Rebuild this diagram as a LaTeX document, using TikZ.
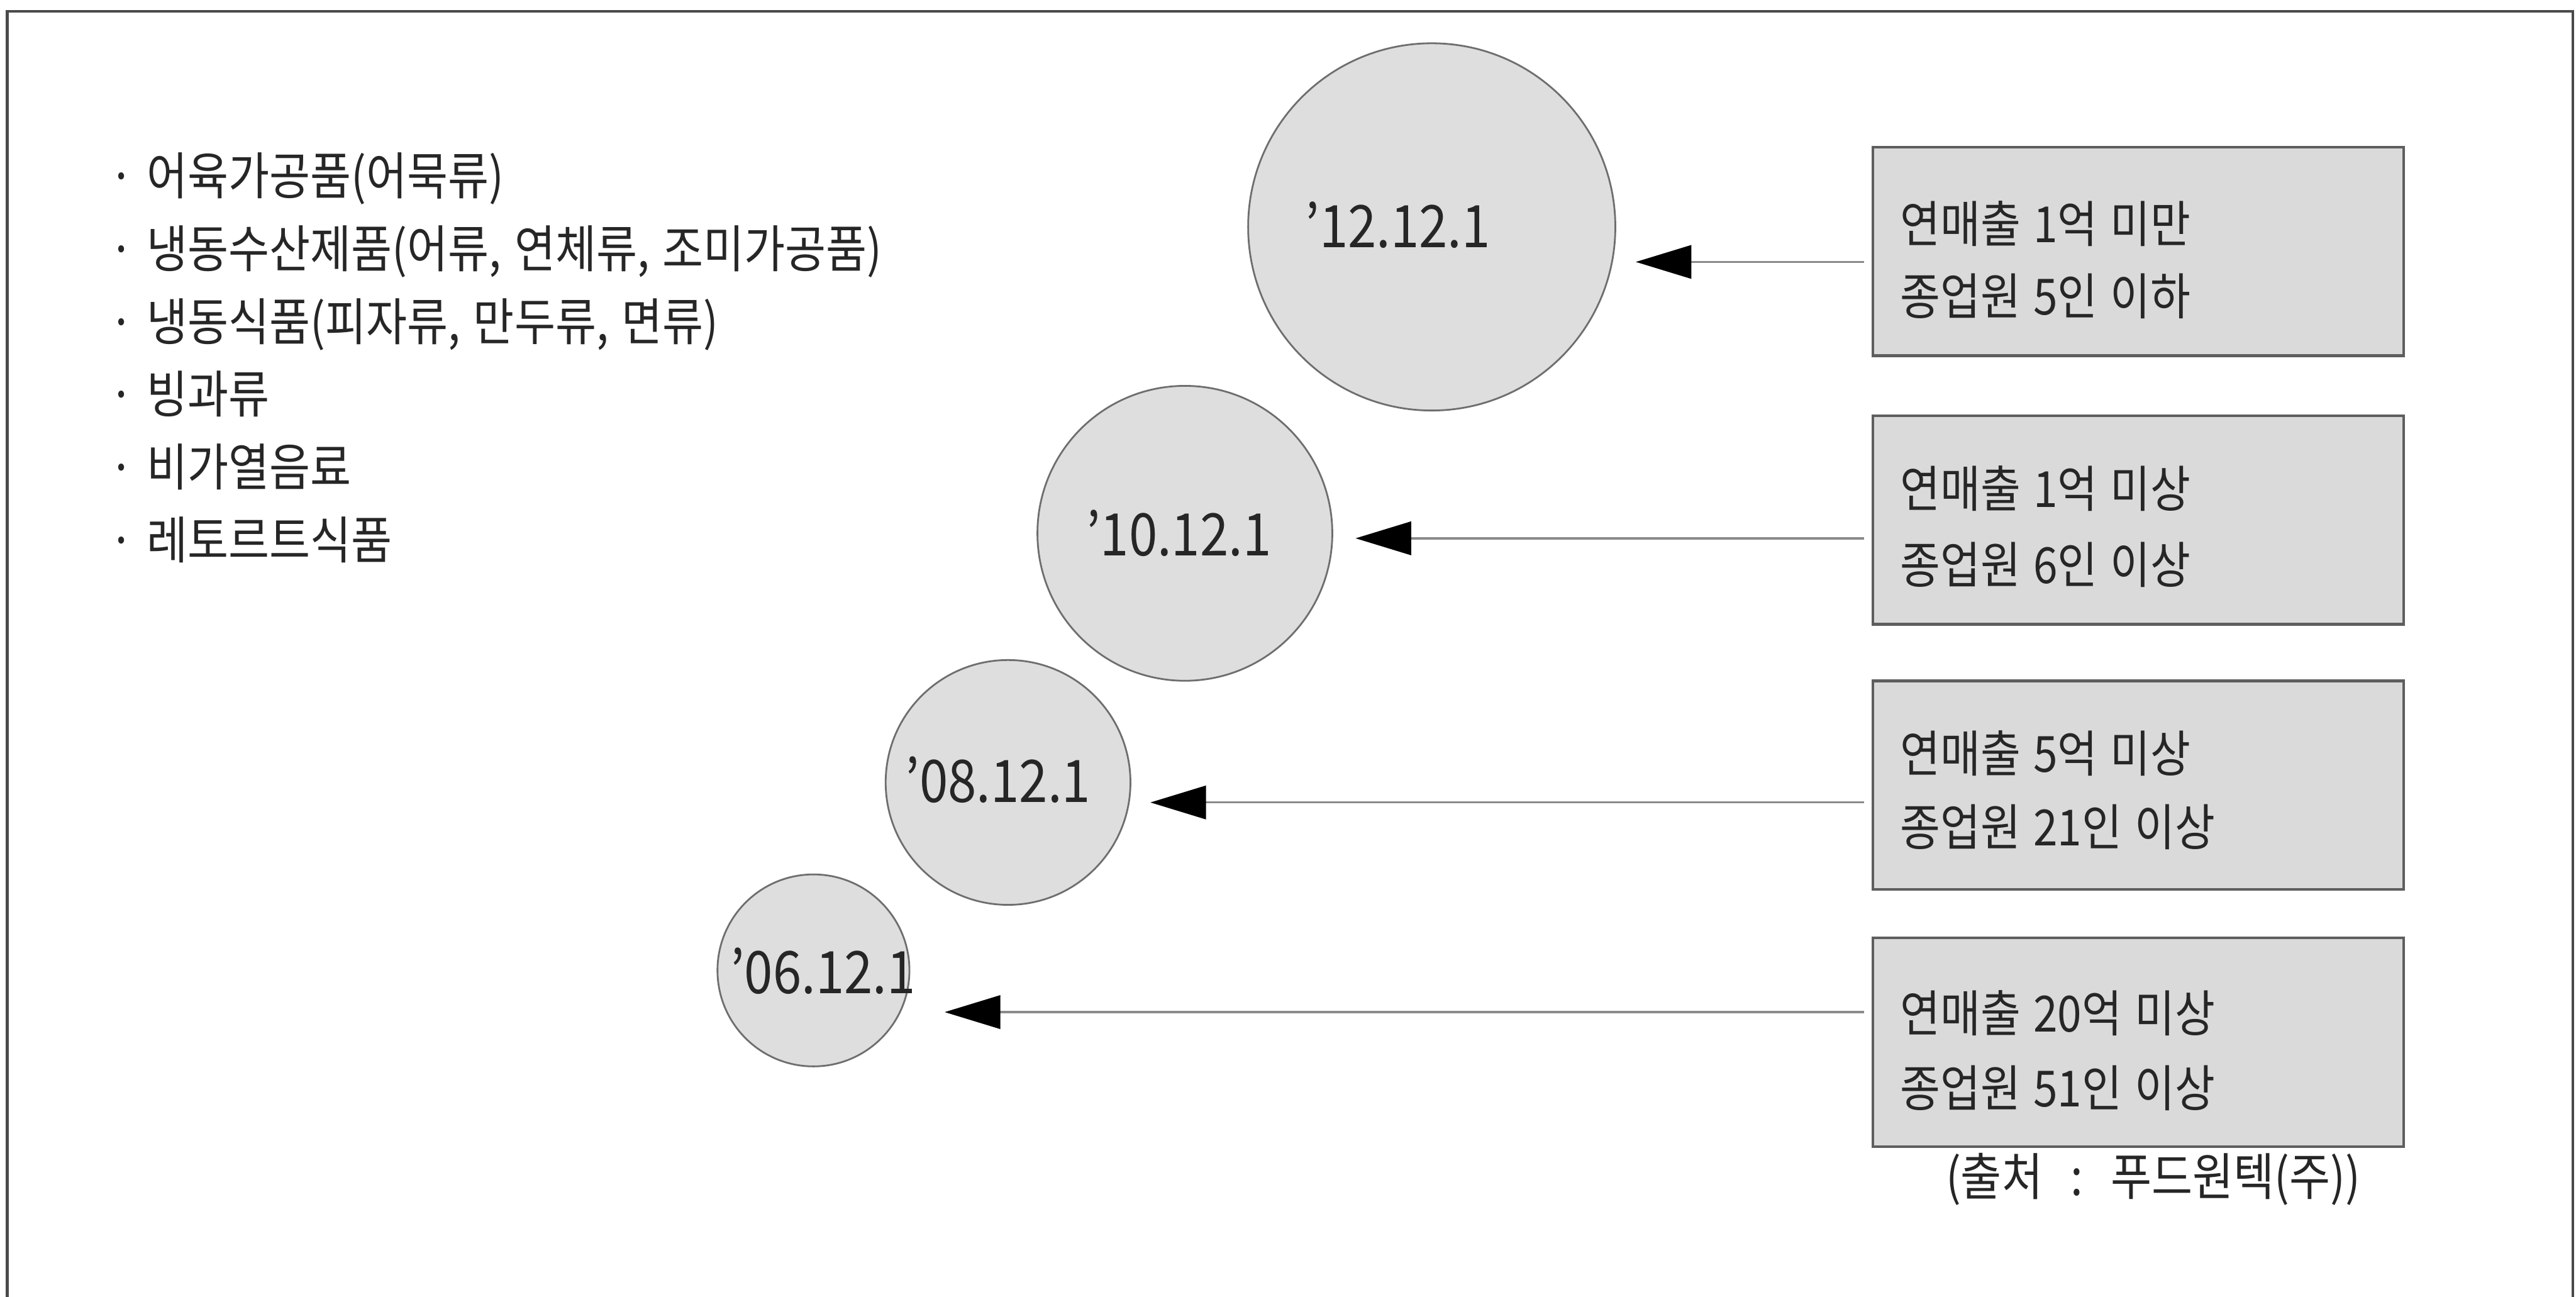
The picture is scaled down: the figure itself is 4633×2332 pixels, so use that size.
\documentclass[tikz,border=0pt]{standalone}
\usepackage{fontspec}
\setmainfont{Noto Sans CJK KR}[FakeStretch=0.875, WordSpace=1.3]
\usetikzlibrary{arrows.meta}
\definecolor{circfill}{HTML}{DEDEDE}
\definecolor{circline}{HTML}{6E6E6E}
\definecolor{boxfill}{HTML}{DADADA}
\definecolor{boxline}{HTML}{5E5E5E}
\definecolor{txt}{HTML}{262626}
\definecolor{arrline}{HTML}{8A8A8A}
\definecolor{frameline}{HTML}{4A4A4A}
\tikzset{
  listitem/.style={anchor=base west, inner sep=0pt, text=txt, font=\fontsize{26pt}{30pt}\selectfont},
  datecirc/.style={circle, draw=circline, fill=circfill, line width=0.9pt, inner sep=0pt},
  datetext/.style={inner sep=0pt, text=txt, font=\fontsize{30pt}{36pt}\selectfont},
  condbox/.style={rectangle, draw=boxline, fill=boxfill, line width=1.4pt,
    minimum width=9.54cm, minimum height=3.75cm, inner sep=0pt},
  condtext/.style={anchor=base west, inner sep=0pt, text=txt, font=\fontsize{25.5pt}{30pt}\selectfont},
  arr/.style={draw=arrline, line width=1.1pt, shorten <=0.14cm,
    -{Triangle[length=1.0cm, width=0.6cm, color=black]}},
  srctext/.style={anchor=base east, inner sep=0pt, text=txt, font=\fontsize{26pt}{30pt}\selectfont}
}
\begin{document}
\begin{tikzpicture}[x=0.01cm, y=-0.01cm]
\useasboundingbox (0,0) rectangle (4633,2332);
\clip (0,0) rectangle (4633,2332);
\fill[white] (0,0) rectangle (4633,2332);
% frame
\draw[frameline, line width=1.4pt] (13,2400) -- (13,20) -- (4627,20) -- (4627,2400);

% list
\node[listitem] (l1) at (195,350) {· 어육가공품(어묵류)};
\node[listitem] (l2) at (195,481) {· 냉동수산제품(어류, 연체류, 조미가공품)};
\node[listitem] (l3) at (195,612) {· 냉동식품(피자류, 만두류, 면류)};
\node[listitem] (l4) at (195,743) {· 빙과류};
\node[listitem] (l5) at (195,874) {· 비가열음료};
\node[listitem] (l6) at (195,1005) {· 레토르트식품};

% circles
\node[datecirc, minimum size=6.6cm] (c1) at (2575,408) {};
\node[datecirc, minimum size=5.3cm] (c2) at (2131,959) {};
\node[datecirc, minimum size=4.4cm] (c3) at (1813,1407) {};
\node[datecirc, minimum size=3.45cm] (c4) at (1463,1745) {};
\node[datetext] (d1) at (2514,405) {’12.12.1};
\node[datetext] (d2) at (2120,959) {’10.12.1};
\node[datetext] (d3) at (1795,1402) {’08.12.1};
\node[datetext] (d4) at (1480,1746) {’06.12.1};

% boxes
\node[condbox] (b1) at (3846,452) {};
\node[condbox] (b2) at (3846,935) {};
\node[condbox] (b3) at (3846,1412) {};
\node[condbox] (b4) at (3846,1874) {};
\node[condtext] (b1a) at (3417,436) {연매출 1억 미만};
\node[condtext] (b1b) at (3417,566) {종업원 5인 이하};
\node[condtext] (b2a) at (3417,912) {연매출 1억 미상};
\node[condtext] (b2b) at (3417,1049) {종업원 6인 이상};
\node[condtext] (b3a) at (3417,1388) {연매출 5억 미상};
\node[condtext] (b3b) at (3417,1521) {종업원 21인 이상};
\node[condtext] (b4a) at (3417,1856) {연매출 20억 미상};
\node[condtext] (b4b) at (3417,1990) {종업원 51인 이상};

% arrow tips
\coordinate (t1) at (2942,471);
\coordinate (t2) at (2438,968);
\coordinate (t3) at (2069,1443);
\coordinate (t4) at (1699,1820);
\draw[arr] (b1.west |- t1) -- (t1);
\draw[arr] (b2.west |- t2) -- (t2);
\draw[arr] (b3.west |- t3) -- (t3);
\draw[arr] (b4.west |- t4) -- (t4);

% source
\node[srctext] (src) at (4246,2150) {(출처\hspace{0.5cm}:\hspace{0.5cm}푸드원텍(주))};
\end{tikzpicture}
\end{document}
